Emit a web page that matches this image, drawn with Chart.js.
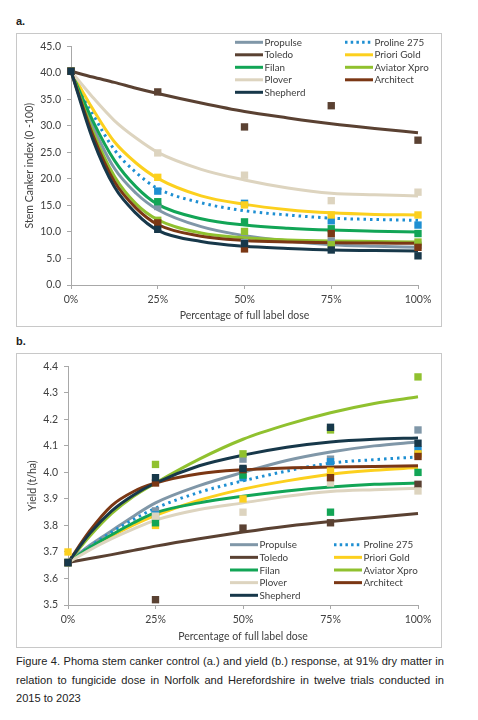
<!DOCTYPE html>
<html lang="en">
<head>
    <meta charset="UTF-8">
    <title>Figure 4</title>
    <script src="https://cdn.jsdelivr.net/npm/chart.js"></script>
    <style>
        body { margin: 0; background: #fff; width: 478px; height: 720px; position: relative; overflow: hidden; font-family: "Liberation Sans", Arial, sans-serif; }
        .panel-label { position: absolute; left: 16px; font-weight: bold; font-size: 11px; color: #222; }
        .box { position: absolute; left: 16px; width: 424px; border: 1px solid #c8c8c8; }
        #boxA { top: 33px; height: 292px; }
        #boxB { top: 353px; height: 293px; }
        .box canvas { display: block; }
        .caption { position: absolute; left: 16px; top: 652px; width: 428px; font-size: 11.1px; line-height: 18.6px; text-align: justify; color: #222; margin: 0; }
    </style>
</head>
<body>
    <div class="panel-label" style="top:15px">a.</div>
    <div class="box" id="boxA"><canvas id="cankerChart" width="424" height="292"></canvas></div>
    <div class="panel-label" style="top:335px">b.</div>
    <div class="box" id="boxB"><canvas id="yieldChart" width="424" height="293"></canvas></div>
    <p class="caption">Figure 4. Phoma stem canker control (a.) and yield (b.) response, at 91% dry matter in relation to fungicide dose in Norfolk and Herefordshire in twelve trials conducted in 2015 to 2023</p>

    <script>
        const doses = [0, 25, 50, 75, 100];
        const curveDoses = [0, 6.25, 12.5, 18.75, 25, 37.5, 50, 62.5, 75, 87.5, 100];
        const xTicks = [0, 25, 50, 75, 100];

        const seriesNames = ["Propulse", "Proline 275", "Toledo", "Priori Gold", "Filan", "Aviator Xpro", "Plover", "Architect", "Shepherd"];
        const seriesColors = ["#8097a8", "#1e8fd2", "#5a4132", "#fcd01e", "#12a556", "#90c12f", "#ddd4bf", "#7b3714", "#17384a"];

        // a. stem canker index - one row per series, same order as seriesNames
        const cankerPoints = [
            [40.3, 14.8, 8.0, 8.3, 7.5],     // Propulse
            [40.3, 17.7, 15.4, 12.1, 11.3],  // Proline 275
            [40.3, 36.4, 29.8, 33.8, 27.3],  // Toledo
            [40.3, 20.3, 15.1, 13.2, 13.2],  // Priori Gold
            [40.3, 15.7, 11.9, 10.6, 9.7],   // Filan
            [40.3, 12.2, 10.1, 7.6, 8.1],    // Aviator Xpro
            [40.3, 24.9, 20.7, 15.9, 17.5],  // Plover
            [40.3, 11.7, 6.8, 9.7, 7.1],     // Architect
            [40.3, 10.5, 7.8, 6.6, 5.5]      // Shepherd
        ];
        const cankerCurves = [
            [40.3, 30.0, 22.0, 17.3, 14.2, 11.0, 9.3, 8.3, 7.6, 7.3, 7.1],
            [40.3, 32.3, 25.5, 21.2, 18.2, 15.5, 14.0, 13.2, 12.6, 12.35, 12.2],
            [40.3, 39.2, 38.2, 37.1, 36.1, 34.3, 32.7, 31.5, 30.4, 29.5, 28.7],
            [40.3, 33.2, 27.0, 23.0, 20.1, 16.8, 15.2, 14.2, 13.6, 13.3, 13.2],
            [40.3, 31.0, 23.5, 18.5, 15.2, 12.5, 11.3, 10.7, 10.35, 10.15, 10.0],
            [40.3, 29.0, 20.5, 15.3, 12.3, 9.8, 8.9, 8.5, 8.3, 8.2, 8.1],
            [40.3, 35.4, 31.0, 27.7, 25.0, 21.8, 19.8, 18.3, 17.3, 17.0, 16.8],
            [40.3, 28.3, 19.5, 14.5, 11.4, 9.2, 8.4, 8.1, 7.95, 7.9, 7.85],
            [40.3, 27.5, 18.5, 13.5, 10.3, 8.2, 7.3, 6.9, 6.6, 6.5, 6.4]
        ];

        // b. yield (t/ha)
        const yieldPoints = [
            [3.66, 3.855, 4.05, 4.05, 4.16],
            [3.66, 3.84, 3.98, 4.04, 4.085],
            [3.66, 3.52, 3.79, 3.81, 3.955],
            [3.70, 3.80, 3.90, 4.005, 4.07],
            [3.66, 3.81, 3.99, 3.85, 4.00],
            [3.66, 4.03, 4.07, 4.16, 4.36],
            [3.66, 3.835, 3.85, 3.96, 3.93],
            [3.66, 3.96, 4.01, 3.98, 4.06],
            [3.66, 3.98, 4.015, 4.17, 4.11]
        ];
        const yieldCurves = [
            [3.66, 3.725, 3.78, 3.835, 3.885, 3.95, 4.0, 4.045, 4.077, 4.1, 4.115],
            [3.66, 3.72, 3.775, 3.823, 3.865, 3.925, 3.968, 4.005, 4.035, 4.048, 4.058],
            [3.66, 3.675, 3.69, 3.706, 3.722, 3.75, 3.775, 3.797, 3.815, 3.83, 3.845],
            [3.66, 3.713, 3.76, 3.802, 3.838, 3.895, 3.937, 3.968, 3.993, 4.008, 4.018],
            [3.66, 3.717, 3.765, 3.81, 3.848, 3.885, 3.91, 3.93, 3.945, 3.955, 3.96],
            [3.66, 3.76, 3.845, 3.91, 3.96, 4.05, 4.125, 4.18, 4.225, 4.26, 4.285],
            [3.66, 3.708, 3.75, 3.787, 3.82, 3.86, 3.885, 3.91, 3.928, 3.935, 3.94],
            [3.66, 3.78, 3.875, 3.928, 3.96, 3.995, 4.01, 4.017, 4.02, 4.022, 4.025],
            [3.66, 3.77, 3.855, 3.915, 3.96, 4.025, 4.065, 4.095, 4.115, 4.125, 4.13]
        ];

        const textColor = "#404040";
        const axisColor = "#a8a8a8";
        const chartFont = "Lato";

        function buildDatasets(points, curves) {
            const sets = [];
            seriesNames.forEach(function(name, i) {
                sets.push({
                    label: name,
                    data: curveDoses.map(function(x, j) { return {x: x, y: curves[i][j]}; }),
                    borderColor: seriesColors[i],
                    borderWidth: 3,
                    borderDash: name === "Proline 275" ? [2.5, 4] : [],
                    borderCapStyle: "butt",
                    cubicInterpolationMode: "monotone",
                    pointRadius: 0,
                    fill: false,
                    clip: false,
                    order: 30 - i
                });
            });
            seriesNames.forEach(function(name, i) {
                sets.push({
                    label: name + " mean",
                    data: doses.map(function(x, j) { return {x: x, y: points[i][j]}; }),
                    showLine: false,
                    pointStyle: "rect",
                    pointRadius: 5.2,
                    pointBorderWidth: 0,
                    pointBackgroundColor: seriesColors[i],
                    backgroundColor: seriesColors[i],
                    borderColor: seriesColors[i],
                    clip: false,
                    order: 10 - i
                });
            });
            return sets;
        }

        // legend drawn inside the plot, two columns like the original
        const insideLegend = {
            id: "insideLegend",
            afterDraw(chart, args, opts) {
                const ctx = chart.ctx;
                ctx.save();
                ctx.font = "9.8px " + chartFont;
                ctx.textBaseline = "middle";
                ctx.fillStyle = textColor;
                seriesNames.forEach(function(name, i) {
                    const col = i % 2;
                    const row = Math.floor(i / 2);
                    const x0 = opts.cols[col];
                    const y = opts.top + row * opts.step;
                    ctx.beginPath();
                    ctx.strokeStyle = seriesColors[i];
                    ctx.lineWidth = 3;
                    ctx.setLineDash(name === "Proline 275" ? [2.5, 3.2] : []);
                    ctx.moveTo(x0, y);
                    ctx.lineTo(x0 + opts.len, y);
                    ctx.stroke();
                    ctx.setLineDash([]);
                    ctx.fillText(name, x0 + opts.len + 1.5, y + 0.5);
                });
                ctx.restore();
            }
        };

        function makeChart(id, points, curves, yCfg, layout) {
            return new Chart(document.getElementById(id), {
                type: "line",
                data: { datasets: buildDatasets(points, curves) },
                plugins: [insideLegend],
                options: {
                    responsive: false,
                    animation: false,
                    events: [],
                    layout: { padding: { top: 7, right: layout.right, left: 0, bottom: 0 } },
                    plugins: {
                        legend: { display: false },
                        tooltip: { enabled: false },
                        insideLegend: layout.legend
                    },
                    scales: {
                        x: {
                            type: "linear",
                            min: 0,
                            max: 100,
                            afterBuildTicks: function(s) { s.ticks = xTicks.map(function(v) { return {value: v}; }); },
                            afterFit: function(s) { s.height = layout.xHeight; },
                            ticks: { color: textColor, font: { family: chartFont, size: 10.5 }, padding: 4, maxRotation: 0,
                                     callback: function(v) { return v + "%"; } },
                            grid: { display: true, drawOnChartArea: false, drawTicks: true, tickLength: 4, color: axisColor },
                            border: { color: axisColor, width: 1 },
                            title: { display: true, text: "Percentage of full label dose", color: textColor,
                                     font: { family: chartFont, size: 10.5 }, padding: { top: 0, bottom: 4 } }
                        },
                        y: {
                            min: yCfg.min,
                            max: yCfg.max,
                            afterFit: function(s) { s.width = layout.yWidth; },
                            ticks: { stepSize: yCfg.step, color: textColor, font: { family: chartFont, size: 10.5 }, padding: 6,
                                     callback: function(v) { return v.toFixed(1); } },
                            grid: { display: true, drawOnChartArea: false, drawTicks: true, tickLength: 4, color: axisColor },
                            border: { color: axisColor, width: 1 },
                            title: { display: true, text: yCfg.title, color: textColor,
                                     font: { family: chartFont, size: 10.5 }, padding: { top: layout.yTitlePad, bottom: 0 } }
                        }
                    }
                }
            });
        }

        makeChart("cankerChart", cankerPoints, cankerCurves,
            { min: 0, max: 45, step: 5, title: "Stem Canker index (0 -100)" },
            { right: 23, xHeight: 41, yWidth: 54, yTitlePad: 6.5,
              legend: { cols: [218, 328], len: 28, top: 8.3, step: 12.5 } });

        makeChart("yieldChart", yieldPoints, yieldCurves,
            { min: 3.5, max: 4.4, step: 0.1, title: "Yield (t/ha)" },
            { right: 23, xHeight: 42, yWidth: 51, yTitlePad: 9,
              legend: { cols: [213, 317], len: 28, top: 190.7, step: 12.65 } });
    </script>
</body>
</html>
